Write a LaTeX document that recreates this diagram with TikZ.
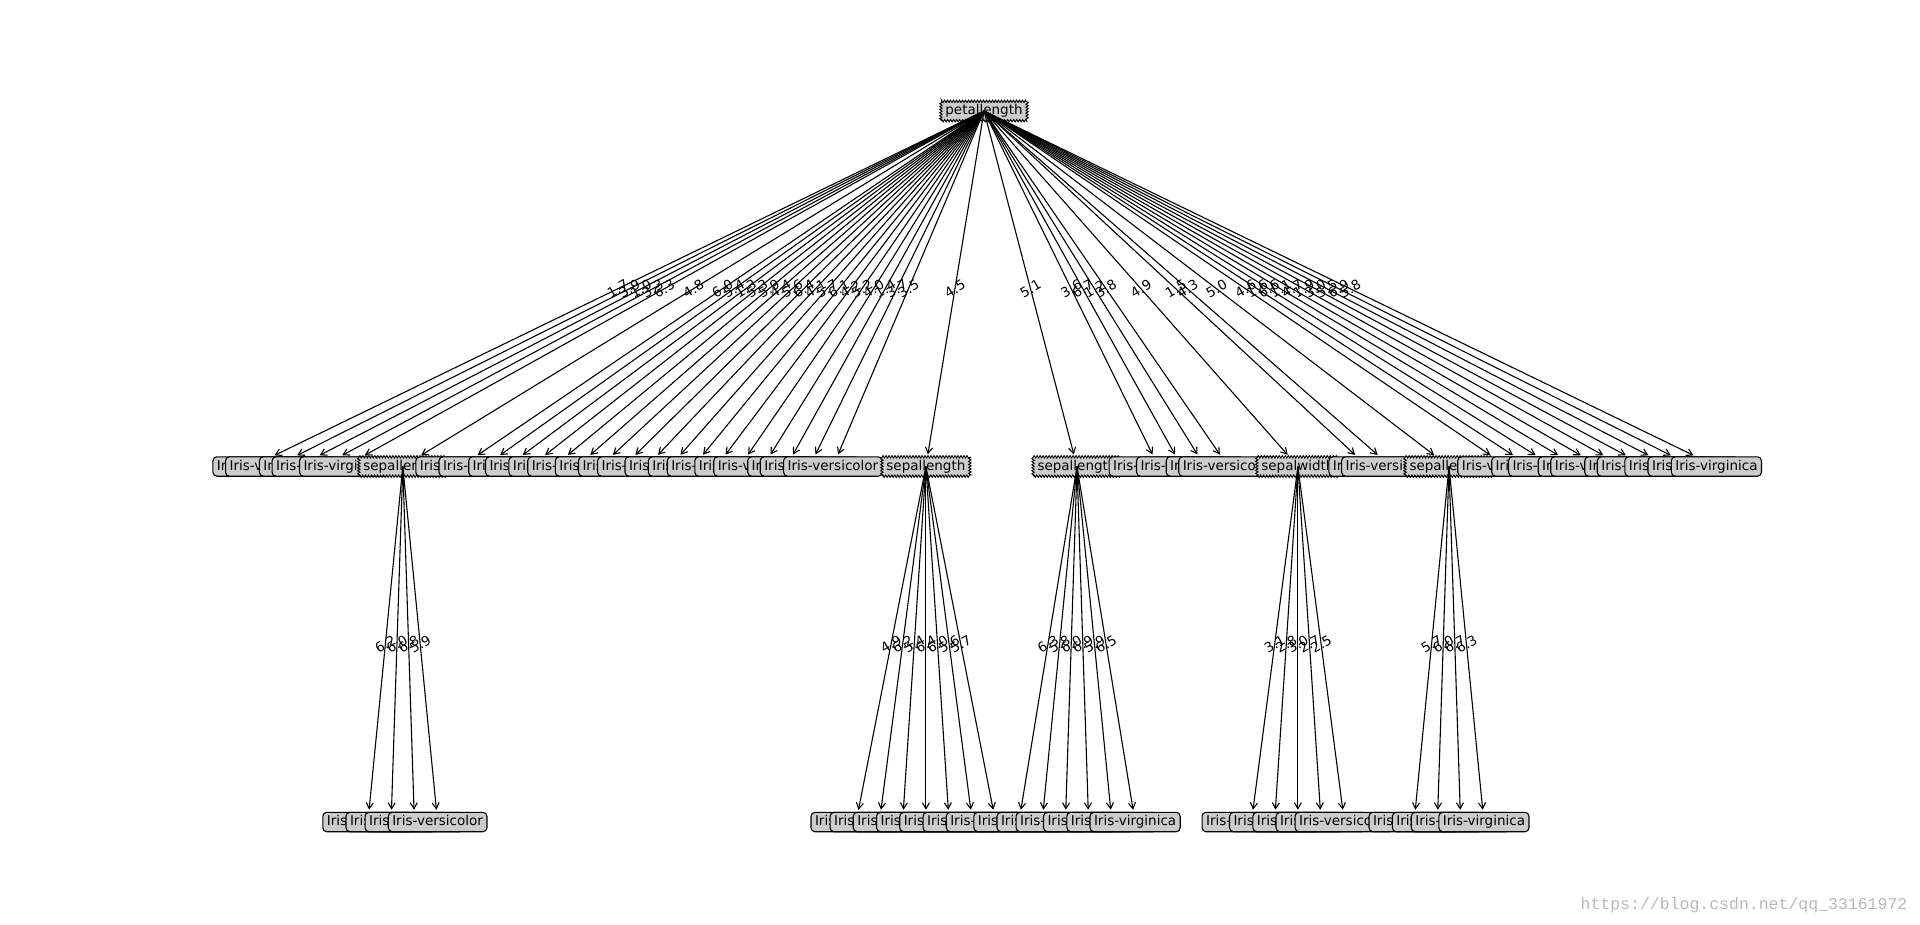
\documentclass[tikz,border=0pt]{standalone}
\usepackage{fontspec}
\setmainfont{DejaVu Sans}
\newfontfamily\markfont{Liberation Mono}
\usetikzlibrary{arrows.meta, decorations.pathmorphing}
\definecolor{boxGris}{gray}{0.8}

\tikzset{
  leaf/.style={draw, fill=boxGris, rounded corners=4pt, line width=1.1pt,
    inner xsep=4pt, inner ysep=3.2pt, text height=10pt, text depth=3pt,
    font=\fontsize{13.5}{16}\selectfont},
  decision/.style={draw, fill=boxGris, decorate,
    decoration={zigzag, segment length=3pt, amplitude=1.2pt}, line width=0.9pt,
    inner xsep=4.5pt, inner ysep=3.2pt, text height=10pt, text depth=3pt,
    font=\fontsize{13.5}{16}\selectfont},
  arr/.style={-{Straight Barb[length=6pt, width=7pt]}, line width=1.1pt, shorten >=2pt},
  lbl/.style={rotate=30, inner sep=0pt, font=\fontsize{13.5}{16}\selectfont}
}

% edge from parent centre to child, value written half way
\newcommand{\treeedge}[3]{%
  \draw[arr] (#1.center) -- (#2);
  \path (#1.center) -- (#2.center) node[midway, lbl] {#3};}

\begin{document}
\begin{tikzpicture}[x=1pt, y=-1pt]
\useasboundingbox (0,0) rectangle (1920,924);
% root
\node[decision] (root) at (984,111) {petallength};
% level 1, left leaves
\node[leaf] (n0) at (251.6,466.5) {Iris-setosa}; \treeedge{root}{n0}{1.7}
\node[leaf] (n1) at (274.9,466.5) {Iris-versicolor}; \treeedge{root}{n1}{3.9}
\node[leaf] (n2) at (298.1,466.5) {Iris-setosa}; \treeedge{root}{n2}{1.0}
\node[leaf] (n3) at (321.4,466.5) {Iris-versicolor}; \treeedge{root}{n3}{3.3}
\node[leaf] (n4) at (344.6,466.5) {Iris-virginica}; \treeedge{root}{n4}{6.3}
% first sepallength split
\node[decision] (g1) at (402.8,466.5) {sepallength}; \treeedge{root}{g1}{4.8}
\node[leaf] (n5) at (367.9,822) {Iris-virginica}; \treeedge{g1}{n5}{6.2}
\node[leaf] (n6) at (391.1,822) {Iris-virginica}; \treeedge{g1}{n6}{6.0}
\node[leaf] (n7) at (414.4,822) {Iris-versicolor}; \treeedge{g1}{n7}{6.8}
\node[leaf] (n8) at (437.6,822) {Iris-versicolor}; \treeedge{g1}{n8}{5.9}
% level 1, middle leaves
\node[leaf] (n9) at (460.9,466.5) {Iris-virginica}; \treeedge{root}{n9}{6.0}
\node[leaf] (n10) at (484.1,466.5) {Iris-virginica}; \treeedge{root}{n10}{5.4}
\node[leaf] (n11) at (507.4,466.5) {Iris-setosa}; \treeedge{root}{n11}{1.3}
\node[leaf] (n12) at (530.6,466.5) {Iris-virginica}; \treeedge{root}{n12}{5.3}
\node[leaf] (n13) at (553.9,466.5) {Iris-virginica}; \treeedge{root}{n13}{5.9}
\node[leaf] (n14) at (577.1,466.5) {Iris-versicolor}; \treeedge{root}{n14}{4.4}
\node[leaf] (n15) at (600.4,466.5) {Iris-virginica}; \treeedge{root}{n15}{5.6}
\node[leaf] (n16) at (623.6,466.5) {Iris-virginica}; \treeedge{root}{n16}{6.4}
\node[leaf] (n17) at (646.9,466.5) {Iris-versicolor}; \treeedge{root}{n17}{4.1}
\node[leaf] (n18) at (670.1,466.5) {Iris-virginica}; \treeedge{root}{n18}{5.7}
\node[leaf] (n19) at (693.4,466.5) {Iris-virginica}; \treeedge{root}{n19}{6.1}
\node[leaf] (n20) at (716.6,466.5) {Iris-versicolor}; \treeedge{root}{n20}{4.2}
\node[leaf] (n21) at (739.9,466.5) {Iris-virginica}; \treeedge{root}{n21}{5.2}
\node[leaf] (n22) at (763.1,466.5) {Iris-versicolor}; \treeedge{root}{n22}{4.0}
\node[leaf] (n23) at (786.4,466.5) {Iris-setosa}; \treeedge{root}{n23}{1.4}
\node[leaf] (n24) at (809.6,466.5) {Iris-versicolor}; \treeedge{root}{n24}{3.7}
\node[leaf] (n25) at (832.9,466.5) {Iris-versicolor}; \treeedge{root}{n25}{3.5}
% second sepallength split
\node[decision] (g2) at (925.9,466.5) {sepallength}; \treeedge{root}{g2}{4.5}
\node[leaf] (n26) at (856.1,822) {Iris-virginica}; \treeedge{g2}{n26}{4.9}
\node[leaf] (n27) at (879.4,822) {Iris-versicolor}; \treeedge{g2}{n27}{6.2}
\node[leaf] (n28) at (902.6,822) {Iris-versicolor}; \treeedge{g2}{n28}{5.4}
\node[leaf] (n29) at (925.9,822) {Iris-versicolor}; \treeedge{g2}{n29}{6.4}
\node[leaf] (n30) at (949.1,822) {Iris-versicolor}; \treeedge{g2}{n30}{6.0}
\node[leaf] (n31) at (972.4,822) {Iris-versicolor}; \treeedge{g2}{n31}{5.6}
\node[leaf] (n32) at (995.6,822) {Iris-versicolor}; \treeedge{g2}{n32}{5.7}
% third sepallength split
\node[decision] (g3) at (1077,466.5) {sepallength}; \treeedge{root}{g3}{5.1}
\node[leaf] (n33) at (1018.9,822) {Iris-virginica}; \treeedge{g3}{n33}{6.3}
\node[leaf] (n34) at (1042.1,822) {Iris-virginica}; \treeedge{g3}{n34}{5.8}
\node[leaf] (n35) at (1065.4,822) {Iris-versicolor}; \treeedge{g3}{n35}{6.0}
\node[leaf] (n36) at (1088.6,822) {Iris-virginica}; \treeedge{g3}{n36}{6.9}
\node[leaf] (n37) at (1111.9,822) {Iris-virginica}; \treeedge{g3}{n37}{5.9}
\node[leaf] (n38) at (1135.1,822) {Iris-virginica}; \treeedge{g3}{n38}{6.5}
% level 1, right leaves
\node[leaf] (n39) at (1158.4,466.5) {Iris-versicolor}; \treeedge{root}{n39}{3.6}
\node[leaf] (n40) at (1181.6,466.5) {Iris-virginica}; \treeedge{root}{n40}{6.7}
\node[leaf] (n41) at (1204.9,466.5) {Iris-setosa}; \treeedge{root}{n41}{1.2}
\node[leaf] (n42) at (1228.1,466.5) {Iris-versicolor}; \treeedge{root}{n42}{3.8}
% sepalwidth split
\node[decision] (g4) at (1297.9,466.5) {sepalwidth}; \treeedge{root}{g4}{4.9}
\node[leaf] (n43) at (1251.4,822) {Iris-versicolor}; \treeedge{g4}{n43}{3.1}
\node[leaf] (n44) at (1274.6,822) {Iris-virginica}; \treeedge{g4}{n44}{2.8}
\node[leaf] (n45) at (1297.9,822) {Iris-virginica}; \treeedge{g4}{n45}{3.0}
\node[leaf] (n46) at (1321.1,822) {Iris-virginica}; \treeedge{g4}{n46}{2.7}
\node[leaf] (n47) at (1344.4,822) {Iris-versicolor}; \treeedge{g4}{n47}{2.5}
\node[leaf] (n48) at (1367.6,466.5) {Iris-setosa}; \treeedge{root}{n48}{1.5}
\node[leaf] (n49) at (1390.9,466.5) {Iris-versicolor}; \treeedge{root}{n49}{4.3}
% last sepallength split
\node[decision] (g5) at (1449,466.5) {sepallength}; \treeedge{root}{g5}{5.0}
\node[leaf] (n50) at (1414.1,822) {Iris-virginica}; \treeedge{g5}{n50}{5.7}
\node[leaf] (n51) at (1437.4,822) {Iris-virginica}; \treeedge{g5}{n51}{6.0}
\node[leaf] (n52) at (1460.6,822) {Iris-versicolor}; \treeedge{g5}{n52}{6.7}
\node[leaf] (n53) at (1483.9,822) {Iris-virginica}; \treeedge{g5}{n53}{6.3}
\node[leaf] (n54) at (1507.1,466.5) {Iris-versicolor}; \treeedge{root}{n54}{4.6}
\node[leaf] (n55) at (1530.4,466.5) {Iris-setosa}; \treeedge{root}{n55}{1.6}
\node[leaf] (n56) at (1553.6,466.5) {Iris-virginica}; \treeedge{root}{n56}{6.6}
\node[leaf] (n57) at (1576.9,466.5) {Iris-setosa}; \treeedge{root}{n57}{1.1}
\node[leaf] (n58) at (1600.1,466.5) {Iris-versicolor}; \treeedge{root}{n58}{4.7}
\node[leaf] (n59) at (1623.4,466.5) {Iris-setosa}; \treeedge{root}{n59}{1.9}
\node[leaf] (n60) at (1646.6,466.5) {Iris-versicolor}; \treeedge{root}{n60}{3.0}
\node[leaf] (n61) at (1669.9,466.5) {Iris-virginica}; \treeedge{root}{n61}{5.5}
\node[leaf] (n62) at (1693.1,466.5) {Iris-virginica}; \treeedge{root}{n62}{6.9}
\node[leaf] (n63) at (1716.4,466.5) {Iris-virginica}; \treeedge{root}{n63}{5.8}
% watermark
\node[text=black!28, font=\markfont\fontsize{16.5}{18}\selectfont] (mark) at (1744,905) {https://blog.csdn.net/qq\_33161972};
\end{tikzpicture}
\end{document}
